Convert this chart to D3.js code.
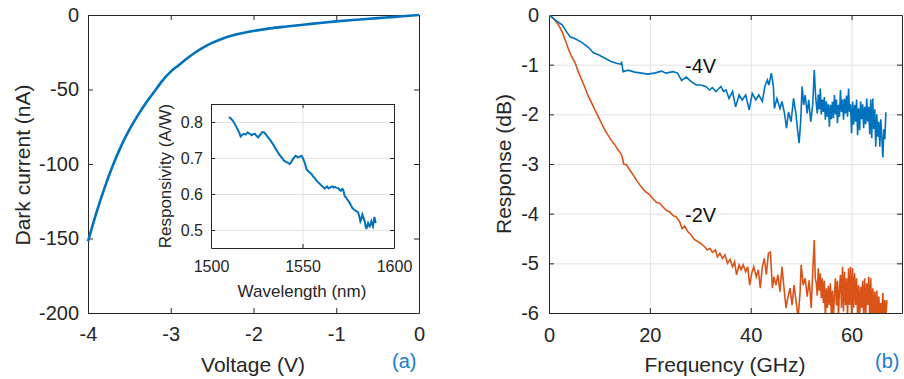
<!DOCTYPE html>
<html>
<head>
<meta charset="utf-8">
<script src="https://cdn.jsdelivr.net/npm/d3@7"></script>
<style>
  body { margin: 0; background: #fff; }
  svg { display: block; font-family: "Liberation Sans", Arial, sans-serif; }
  .axis path, .axis line { stroke: #262626; }
  .axis text { fill: #262626; }
  .grid line { stroke: #e3e3e3; }
  .grid path { display: none; }
</style>
</head>
<body>
<div id="chart"></div>
<script>
// (a) dark current vs voltage
const voltage = [-4, -3.9, -3.8, -3.7, -3.6, -3.5, -3.4, -3.3, -3.2, -3.1, -3.0, -2.9, -2.8, -2.7, -2.6, -2.5,
  -2.4, -2.3, -2.2, -2.1, -2.0, -1.8, -1.6, -1.4, -1.2, -1.0, -0.8, -0.6, -0.4, -0.2, 0];
const darkCurrent = [-152, -133, -116, -101, -88, -77, -67.5, -59, -51.5, -44, -38, -33.5, -29, -25, -21.5, -18.7,
  -16.4, -14.5, -12.9, -11.7, -10.7, -9.0, -7.7, -6.5, -5.4, -4.3, -3.4, -2.5, -1.7, -0.8, 0];
const voltageTicks = [-4, -3, -2, -1, 0];
const currentTicks = [0, -50, -100, -150, -200];

// inset: responsivity vs wavelength
const wavelength = [1509.8, 1511, 1512.2, 1513.3, 1514.4, 1515.3, 1516.2, 1517, 1518, 1519, 1520, 1521, 1522.2, 1523, 1524,
  1525, 1525.8, 1526.5, 1527.3, 1528, 1529, 1530, 1530.7, 1531.6, 1532.5, 1533.4, 1534.4, 1535.3, 1536.2, 1537, 1538,
  1539, 1539.8, 1540.7, 1541.6, 1542.3, 1543, 1543.8, 1544.5, 1545.4, 1546.2, 1547, 1547.6, 1548.5, 1549.5, 1550.2, 1550.9,
  1551.6, 1552.2, 1553, 1554, 1555, 1555.8, 1556.7, 1557.6, 1558.5, 1559.5, 1560.2, 1560.9, 1561.6, 1562.2, 1562.9, 1563.5,
  1564.2, 1564.9, 1565.6, 1566.4, 1567.1, 1567.8, 1568.7, 1569.5, 1570.2, 1570.9, 1571.6, 1572.2, 1573.1, 1573.8, 1574.5,
  1575.2, 1575.8, 1576.5, 1577.3, 1578.1, 1578.9, 1579.6, 1580.4, 1581, 1581.6, 1582.2, 1582.7, 1583.4, 1584, 1584.5,
  1584.9, 1585.4, 1585.8, 1586.2, 1586.7, 1587.2, 1587.6, 1588, 1588.5, 1588.9, 1589.3, 1589.7, 1590];
const responsivity = [0.814, 0.809, 0.802, 0.792, 0.781, 0.772, 0.760, 0.764, 0.767, 0.765, 0.771, 0.768, 0.763, 0.766, 0.767,
  0.761, 0.757, 0.762, 0.767, 0.772, 0.771, 0.766, 0.760, 0.755, 0.749, 0.742, 0.734, 0.726, 0.719, 0.712, 0.705,
  0.699, 0.693, 0.690, 0.688, 0.686, 0.683, 0.688, 0.695, 0.701, 0.706, 0.704, 0.702, 0.704, 0.706, 0.700, 0.691,
  0.680, 0.669, 0.664, 0.660, 0.655, 0.649, 0.644, 0.638, 0.633, 0.628, 0.624, 0.621, 0.618, 0.615, 0.619, 0.621,
  0.616, 0.617, 0.620, 0.621, 0.618, 0.619, 0.617, 0.616, 0.612, 0.609, 0.614, 0.612, 0.594, 0.590, 0.584,
  0.580, 0.575, 0.568, 0.561, 0.557, 0.554, 0.552, 0.549, 0.538, 0.524, 0.532, 0.543, 0.533, 0.524, 0.512,
  0.503, 0.512, 0.519, 0.513, 0.510, 0.518, 0.524, 0.516, 0.510, 0.524, 0.536, 0.527, 0.519];
const wavelengthTicks = [1500, 1550, 1600];
const responsivityTicks = [0.5, 0.6, 0.7, 0.8];

// (b) frequency response at -4 V and -2 V
const freq4V = [
  0, 0.3, 1.2, 2.6, 3.5, 4.2, 5.2, 6.5, 7.8, 8.8,
  9.8, 11.1, 12.4, 13.4, 14.2, 14.4, 14.7, 15.7, 17.0, 18.3,
  19.6, 20.9, 22.3, 23.2, 24.6, 25.5, 26.3, 27.2, 28.2, 29.2,
  30.1, 31.1, 31.8, 32.4, 33.1, 33.6, 34.1, 34.6, 35.1, 35.7,
  36.4, 37.0, 37.7, 38.3, 39.0, 39.7, 40.3, 41.0, 41.6, 42.3,
  42.8, 43.3, 43.6, 44.1, 44.5, 44.7, 45.2, 45.8, 46.2, 46.7,
  47.1, 47.5, 48.0, 48.5, 49.0, 49.3, 49.6, 49.9, 50.2, 50.5,
  50.8, 51.2, 51.5, 51.9, 52.3, 52.6, 52.9, 53.2, 53.4, 53.6,
  53.8, 54.0, 54.2, 54.4, 54.6, 54.8, 55.0, 55.2, 55.4, 55.6,
  55.8, 56.0, 56.2, 56.4, 56.6, 56.8, 57.0, 57.2, 57.4, 57.6,
  57.8, 58.0, 58.2, 58.4, 58.6, 58.8, 59.0, 59.2, 59.4, 59.6,
  59.8, 60.0, 60.2, 60.4, 60.6, 60.8, 61.0, 61.2, 61.4, 61.6,
  61.8, 62.0, 62.2, 62.4, 62.6, 62.8, 63.0, 63.2, 63.4, 63.6,
  63.8, 64.0, 64.2, 64.4, 64.6, 64.8, 65.0, 65.2, 65.4, 65.6,
  65.8, 66.0, 66.2, 66.4, 66.6, 66.8];
const resp4V = [
  0, -0.02, -0.10, -0.20, -0.34, -0.44, -0.48, -0.55, -0.65, -0.76,
  -0.80, -0.87, -0.94, -0.97, -0.99, -0.96, -1.14, -1.11, -1.15, -1.17,
  -1.19, -1.17, -1.13, -1.17, -1.14, -1.17, -1.32, -1.25, -1.34, -1.41,
  -1.41, -1.44, -1.51, -1.46, -1.54, -1.49, -1.44, -1.54, -1.51, -1.68,
  -1.54, -1.85, -1.61, -1.71, -1.61, -1.91, -1.58, -1.71, -1.61, -1.74,
  -1.44, -1.31, -1.41, -1.17, -1.44, -1.88, -1.68, -1.88, -1.74, -1.98,
  -2.28, -1.95, -2.15, -1.68, -2.01, -2.32, -2.58, -2.15, -1.44, -1.81,
  -1.61, -1.98, -1.71, -2.15, -1.81, -1.11, -1.68, -1.98, -1.60, -1.90,
  -1.48, -2.00, -1.70, -1.95, -1.65, -2.11, -1.74, -2.05, -1.80, -2.25,
  -1.81, -2.10, -1.75, -2.08, -1.61, -2.00, -1.70, -2.18, -1.81, -2.05,
  -1.51, -1.95, -1.70, -2.11, -1.68, -1.98, -1.62, -2.05, -1.48, -1.95,
  -1.80, -2.38, -1.74, -2.21, -1.81, -2.15, -1.70, -2.42, -1.88, -2.32,
  -1.74, -2.10, -1.80, -2.28, -1.85, -2.20, -1.68, -2.15, -1.85, -2.40,
  -1.70, -2.48, -1.68, -2.30, -1.90, -2.65, -2.00, -2.45, -2.15, -2.65,
  -2.10, -2.45, -2.87, -2.30, -2.50, -1.96];
const freq2V = [
  0, 0.3, 0.9, 1.9, 2.6, 3.2, 3.9, 4.5, 5.2, 5.8,
  6.5, 7.2, 7.8, 8.5, 9.1, 9.8, 10.4, 11.1, 11.7, 12.4,
  13.1, 13.7, 14.2, 14.5, 14.8, 15.4, 16.0, 16.7, 17.3, 18.0,
  18.6, 19.3, 20.0, 20.6, 21.3, 21.9, 22.6, 23.2, 23.9, 24.6,
  25.2, 25.9, 26.4, 26.9, 27.5, 28.2, 28.8, 29.5, 30.1, 30.8,
  31.4, 31.9, 32.4, 33.0, 33.4, 33.9, 34.4, 34.9, 35.4, 35.9,
  36.4, 36.8, 37.2, 37.7, 38.1, 38.5, 39.0, 39.4, 39.8, 40.2,
  40.6, 41.1, 41.5, 41.9, 42.3, 42.7, 43.1, 43.5, 43.9, 44.3,
  44.6, 45.0, 45.4, 45.8, 46.2, 46.6, 47.0, 47.4, 47.8, 48.2,
  48.6, 49.0, 49.4, 49.8, 50.0, 50.4, 50.8, 51.2, 51.6, 52.0,
  52.3, 52.6, 52.8, 53.0, 53.2, 53.4, 53.6, 53.8, 54.0, 54.2,
  54.4, 54.6, 54.8, 55.0, 55.2, 55.4, 55.6, 55.8, 56.0, 56.2,
  56.4, 56.6, 56.8, 57.0, 57.2, 57.4, 57.6, 57.8, 58.0, 58.2,
  58.4, 58.6, 58.8, 59.0, 59.2, 59.4, 59.6, 59.8, 60.0, 60.2,
  60.4, 60.6, 60.8, 61.0, 61.2, 61.4, 61.6, 61.8, 62.0, 62.2,
  62.4, 62.6, 62.8, 63.0, 63.2, 63.4, 63.6, 63.8, 64.0, 64.2,
  64.4, 64.6, 64.8, 65.0, 65.2, 65.4, 65.6, 65.8, 66.0, 66.2,
  66.4, 66.6, 66.8, 67.0];
const resp2V = [
  0, -0.03, -0.07, -0.20, -0.34, -0.50, -0.70, -0.84, -0.97, -1.14,
  -1.31, -1.48, -1.64, -1.78, -1.91, -2.05, -2.18, -2.32, -2.42, -2.53,
  -2.62, -2.72, -2.78, -2.85, -3.00, -3.02, -3.12, -3.22, -3.32, -3.42,
  -3.50, -3.57, -3.62, -3.70, -3.77, -3.79, -3.86, -3.93, -3.96, -4.04,
  -4.06, -4.16, -4.30, -4.25, -4.36, -4.43, -4.52, -4.56, -4.60, -4.66,
  -4.73, -4.70, -4.78, -4.73, -4.87, -4.80, -4.90, -4.83, -5.00, -4.92,
  -5.07, -4.97, -5.23, -5.03, -5.13, -5.03, -5.17, -5.07, -5.44, -5.20,
  -5.07, -5.27, -5.13, -5.50, -5.07, -4.90, -5.23, -4.80, -4.77, -5.50,
  -5.27, -5.44, -5.23, -5.57, -5.07, -5.50, -5.90, -5.67, -5.50, -5.84,
  -5.44, -5.77, -6.10, -5.57, -5.03, -5.44, -5.30, -5.67, -5.34, -5.90,
  -5.17, -4.53, -5.30, -5.40, -5.65, -5.10, -5.55, -5.20, -5.70, -5.30,
  -5.80, -5.35, -6.10, -5.50, -5.90, -5.45, -5.84, -5.40, -6.10, -5.55,
  -6.10, -5.64, -5.30, -5.85, -5.35, -6.10, -5.50, -5.23, -5.90, -5.07,
  -5.97, -5.17, -5.84, -5.30, -6.10, -5.10, -5.84, -5.07, -6.10, -5.10,
  -5.90, -5.20, -5.84, -5.30, -6.10, -5.44, -6.10, -5.47, -5.90, -5.35,
  -6.10, -5.30, -6.10, -5.40, -5.84, -5.27, -6.10, -5.30, -6.10, -5.50,
  -6.10, -5.57, -6.10, -5.55, -6.10, -5.67, -6.10, -5.80, -6.10, -5.60,
  -6.10, -5.74, -6.10, -5.74];
const freqTicks = [0, 20, 40, 60];
const respTicks = [0, -1, -2, -3, -4, -5, -6];

const blue = '#0072BD', orange = '#D95319', labelBlue = '#1a7ccc';
const plain = d => String(d); // keep hyphen minus like the original

const svg = d3.select('#chart').append('svg')
  .attr('width', 904)
  .attr('height', 379);

// MATLAB style box: inward ticks on all four sides, optional grid
function drawBox(g, x, y, xTicks, yTicks, opts) {
  const [x0, x1] = x.range(), [y1, y0] = y.range();
  const w = x1 - x0, h = y1 - y0;
  const tick = opts.tick || 5;

  if (opts.grid) {
    g.append('g').attr('class', 'grid')
      .attr('transform', `translate(0,${y1})`)
      .call(d3.axisBottom(x).tickValues(opts.gridX || xTicks).tickSize(-h).tickFormat(''));
    g.append('g').attr('class', 'grid')
      .attr('transform', `translate(${x0},0)`)
      .call(d3.axisLeft(y).tickValues(yTicks).tickSize(-w).tickFormat(''));
  }

  g.append('g').attr('class', 'axis')
    .attr('transform', `translate(0,${y1})`)
    .call(d3.axisBottom(x).tickValues(xTicks).tickSizeInner(-tick).tickSizeOuter(0)
      .tickPadding(opts.xPad).tickFormat(plain))
    .call(a => a.selectAll('text').style('font-size', opts.font + 'px'));
  g.append('g').attr('class', 'axis')
    .attr('transform', `translate(${x0},0)`)
    .call(d3.axisLeft(y).tickValues(yTicks).tickSizeInner(-tick).tickSizeOuter(0)
      .tickPadding(opts.yPad).tickFormat(opts.yFormat || plain))
    .call(a => a.selectAll('text').style('font-size', opts.font + 'px'));
  g.append('g').attr('class', 'axis')
    .attr('transform', `translate(0,${y0})`)
    .call(d3.axisTop(x).tickValues(xTicks).tickSizeInner(-tick).tickSizeOuter(0).tickFormat(''));
  g.append('g').attr('class', 'axis')
    .attr('transform', `translate(${x1},0)`)
    .call(d3.axisRight(y).tickValues(yTicks).tickSizeInner(-tick).tickSizeOuter(0).tickFormat(''));
  g.selectAll('.axis text').attr('fill', '#262626');
}

// ---------- panel (a) ----------
const a = svg.append('g');
const xA = d3.scaleLinear().domain([-4, 0]).range([88, 419]);
const yA = d3.scaleLinear().domain([-200, 0]).range([313, 15]);
drawBox(a, xA, yA, voltageTicks, currentTicks, { xPad: 14, yPad: 9, font: 20 });

a.append('path')
  .datum(voltage.map((v, i) => [v, darkCurrent[i]]))
  .attr('d', d3.line().x(d => xA(d[0])).y(d => yA(d[1])).curve(d3.curveMonotoneX))
  .attr('fill', 'none')
  .attr('stroke', blue)
  .attr('stroke-width', 2.6);

a.append('text').attr('x', 253).attr('y', 372).attr('text-anchor', 'middle')
  .style('font-size', '21px').attr('fill', '#262626').text('Voltage (V)');
a.append('text').attr('transform', 'translate(30,165) rotate(-90)').attr('text-anchor', 'middle')
  .style('font-size', '21px').attr('fill', '#262626').text('Dark current (nA)');
a.append('text').attr('x', 392).attr('y', 368)
  .style('font-size', '20px').attr('fill', labelBlue).text('(a)');

// inset
const ins = svg.append('g');
const xI = d3.scaleLinear().domain([1500, 1600]).range([211, 394]);
const yI = d3.scaleLinear().domain([0.45, 0.85]).range([248, 104]);
ins.append('rect').attr('x', 211).attr('y', 104).attr('width', 183).attr('height', 144).attr('fill', '#fff');
drawBox(ins, xI, yI, wavelengthTicks, responsivityTicks,
  { grid: true, gridX: [1550], xPad: 13, yPad: 8, font: 16, tick: 4, yFormat: d3.format('.1f') });

ins.append('path')
  .datum(wavelength.map((w, i) => [w, responsivity[i]]))
  .attr('d', d3.line().x(d => xI(d[0])).y(d => yI(d[1])))
  .attr('fill', 'none')
  .attr('stroke', blue)
  .attr('stroke-width', 2);

ins.append('text').attr('x', 302).attr('y', 297).attr('text-anchor', 'middle')
  .style('font-size', '17px').attr('fill', '#262626').text('Wavelength (nm)');
ins.append('text').attr('transform', 'translate(171,176) rotate(-90)').attr('text-anchor', 'middle')
  .style('font-size', '17px').attr('fill', '#262626').text('Responsivity (A/W)');

// ---------- panel (b) ----------
const b = svg.append('g');
const xB = d3.scaleLinear().domain([0, 70]).range([549, 902]);
const yB = d3.scaleLinear().domain([-6, 0]).range([313, 15]);

b.append('clipPath').attr('id', 'clipB')
  .append('rect').attr('x', 549).attr('y', 15).attr('width', 353).attr('height', 298);

drawBox(b, xB, yB, freqTicks, respTicks, { grid: true, xPad: 15, yPad: 10, font: 20 });

const lineB = d3.line().x(d => xB(d[0])).y(d => yB(d[1]));
b.append('path')
  .datum(freq2V.map((f, i) => [f, resp2V[i]]))
  .attr('d', lineB)
  .attr('clip-path', 'url(#clipB)')
  .attr('fill', 'none')
  .attr('stroke', orange)
  .attr('stroke-width', 1.6);
b.append('path')
  .datum(freq4V.map((f, i) => [f, resp4V[i]]))
  .attr('d', lineB)
  .attr('clip-path', 'url(#clipB)')
  .attr('fill', 'none')
  .attr('stroke', blue)
  .attr('stroke-width', 1.6);

b.append('text').attr('x', 685).attr('y', 73)
  .style('font-size', '20px').attr('fill', '#111').text('-4V');
b.append('text').attr('x', 685).attr('y', 222)
  .style('font-size', '20px').attr('fill', '#111').text('-2V');

b.append('text').attr('x', 725).attr('y', 372).attr('text-anchor', 'middle')
  .style('font-size', '21px').attr('fill', '#262626').text('Frequency (GHz)');
b.append('text').attr('transform', 'translate(511,164) rotate(-90)').attr('text-anchor', 'middle')
  .style('font-size', '21px').attr('fill', '#262626').text('Response (dB)');
b.append('text').attr('x', 875).attr('y', 368)
  .style('font-size', '20px').attr('fill', labelBlue).text('(b)');
</script>
</body>
</html>
